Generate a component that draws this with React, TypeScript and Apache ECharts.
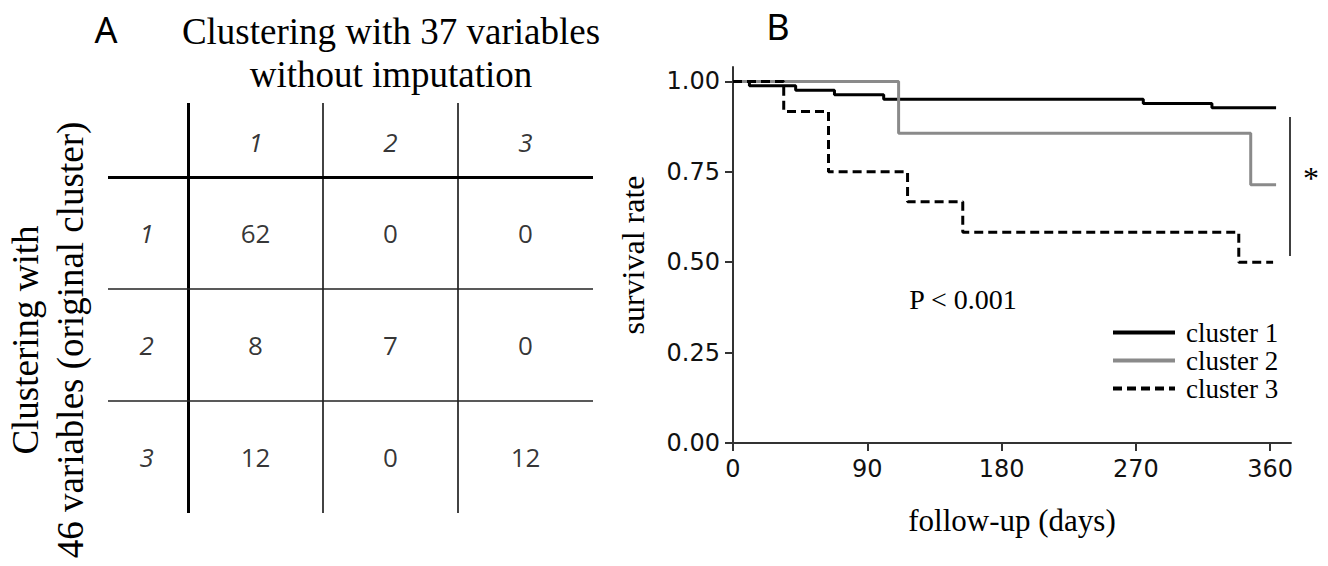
import React, { useEffect, useRef } from "react";
import * as echarts from "echarts";

// ---- Panel A: contingency table ----
const colCategories = ["1", "2", "3"];
const rowCategories = ["1", "2", "3"];
const tableCounts = [
  [62, 0, 0],
  [8, 7, 0],
  [12, 0, 12],
];

// ---- Panel B: Kaplan-Meier curves ----
const xTicks = [0, 90, 180, 270, 360];
const yTicks = [0, 0.25, 0.5, 0.75, 1.0];
const seriesNames = ["cluster 1", "cluster 2", "cluster 3"];

const c1Days = [0, 11, 42, 68, 101, 275, 321, 364];
const c1Surv = [1, 0.988, 0.976, 0.963, 0.951, 0.939, 0.927, 0.927];
const c2Days = [0, 111, 347, 364];
const c2Surv = [1, 0.857, 0.714, 0.714];
const c3Days = [0, 34, 64, 117, 154, 339, 362];
const c3Surv = [1, 0.917, 0.75, 0.667, 0.583, 0.5, 0.5];

const SERIF = "'Liberation Serif', 'Times New Roman', serif";
const SANS = "'DejaVu Sans', Verdana, sans-serif";
const TABLE_FONT = "'Open Sans', Lato, sans-serif";
const LETTER_FONT = "'Noto Sans', 'Open Sans', sans-serif";

function pairs(xs: number[], ys: number[]) {
  return xs.map((x, i) => [x, ys[i]]);
}

function centeredText(
  text: string,
  x: number,
  y: number,
  fontFamily: string,
  fontSize: number,
  extra: any = {}
) {
  return {
    type: "text",
    x,
    y,
    ...extra,
    style: {
      text,
      fontFamily,
      fontSize,
      fill: "#000",
      textAlign: "center",
      align: "center",
      textVerticalAlign: "middle",
      verticalAlign: "middle",
    },
  };
}

export default function App() {
  const ref = useRef<HTMLDivElement>(null);

  useEffect(() => {
    if (!ref.current) return;
    const chart = echarts.init(ref.current, undefined, { renderer: "svg" });

    const cellData: any[] = [];
    tableCounts.forEach((row, r) =>
      row.forEach((v, c) => cellData.push([c + 0.5, r + 0.5, v]))
    );
    const headerData = colCategories.map((lab, c) => [c + 0.5, -0.315, lab]);
    const rowLabelData = rowCategories.map((lab, r) => [-0.306, r + 0.5, lab]);

    const thick = { color: "#000", width: 3, type: "solid" };
    const thin = { color: "#222", width: 1.7, type: "solid" };

    const labelOnly = (fontStyle: string) => ({
      type: "scatter",
      xAxisIndex: 0,
      yAxisIndex: 0,
      symbolSize: 1,
      itemStyle: { color: "transparent" },
      silent: true,
      label: {
        show: true,
        position: "inside",
        formatter: (p: any) => String(p.value[2]),
        fontFamily: TABLE_FONT,
        fontSize: 26,
        fontStyle,
        color: "#000",
      },
    });

    const option: any = {
      animation: false,
      backgroundColor: "#fff",
      grid: [
        { left: 108, top: 103, width: 485, height: 410 },
        { left: 733, top: 67, width: 558, height: 376 },
      ],
      xAxis: [
        { gridIndex: 0, type: "value", min: -0.593, max: 3, show: false },
        {
          gridIndex: 1,
          type: "value",
          min: 0,
          max: 374,
          splitLine: { show: false },
          axisLine: { onZero: false, lineStyle: { color: "#333", width: 2 } },
          axisTick: {
            length: 8,
            customValues: xTicks,
            lineStyle: { color: "#333", width: 2 },
          },
          axisLabel: {
            customValues: xTicks,
            fontFamily: SANS,
            fontSize: 24,
            color: "#111",
            margin: 14,
          },
          name: "follow-up (days)",
          nameLocation: "middle",
          nameGap: 62,
          nameTextStyle: { fontFamily: SERIF, fontSize: 31, color: "#000" },
        },
      ],
      yAxis: [
        {
          gridIndex: 0,
          type: "value",
          min: -0.661,
          max: 3,
          inverse: true,
          show: false,
        },
        {
          gridIndex: 1,
          type: "value",
          min: 0,
          max: 1.04,
          splitLine: { show: false },
          axisLine: { show: true, lineStyle: { color: "#333", width: 2 } },
          axisTick: {
            show: true,
            length: 8,
            customValues: yTicks,
            lineStyle: { color: "#333", width: 2 },
          },
          axisLabel: {
            customValues: yTicks,
            formatter: (v: number) => v.toFixed(2),
            fontFamily: SANS,
            fontSize: 24,
            color: "#111",
            margin: 13,
          },
          name: "survival rate",
          nameLocation: "middle",
          nameGap: 84,
          nameTextStyle: { fontFamily: SERIF, fontSize: 32, color: "#000" },
        },
      ],
      legend: {
        data: seriesNames,
        orient: "vertical",
        left: 1106,
        top: 314,
        itemWidth: 62,
        itemHeight: 14,
        itemGap: 1,
        itemStyle: { opacity: 0 },
        lineStyle: { width: 4 },
        textStyle: {
          fontFamily: SERIF,
          fontSize: 27,
          lineHeight: 26,
          color: "#000",
          padding: [0, 0, 0, 6],
        },
      },
      series: [
        {
          ...labelOnly("normal"),
          name: "cells",
          data: cellData,
          markLine: {
            silent: true,
            symbol: ["none", "none"],
            label: { show: false },
            data: [
              { xAxis: 0, lineStyle: thick },
              { xAxis: 1, lineStyle: thin },
              { xAxis: 2, lineStyle: thin },
              { yAxis: 0, lineStyle: thick },
              { yAxis: 1, lineStyle: thin },
              { yAxis: 2, lineStyle: thin },
            ],
          },
        },
        { ...labelOnly("italic"), name: "headers", data: headerData },
        { ...labelOnly("italic"), name: "rowLabels", data: rowLabelData },
        {
          name: seriesNames[0],
          type: "line",
          xAxisIndex: 1,
          yAxisIndex: 1,
          step: "end",
          symbol: "none",
          data: pairs(c1Days, c1Surv),
          lineStyle: { color: "#000", width: 3 },
          itemStyle: { color: "#000" },
        },
        {
          name: seriesNames[1],
          type: "line",
          xAxisIndex: 1,
          yAxisIndex: 1,
          step: "end",
          symbol: "none",
          data: pairs(c2Days, c2Surv),
          lineStyle: { color: "#8a8a8a", width: 3 },
          itemStyle: { color: "#8a8a8a" },
        },
        {
          name: seriesNames[2],
          type: "line",
          xAxisIndex: 1,
          yAxisIndex: 1,
          step: "end",
          symbol: "none",
          data: pairs(c3Days, c3Surv),
          lineStyle: { color: "#000", width: 3, type: [9, 5] },
          itemStyle: { color: "#000" },
          markLine: {
            silent: true,
            symbol: ["none", "none"],
            label: { show: false },
            lineStyle: { color: "#000", width: 1.5, type: "solid" },
            data: [[{ coord: [373, 0.902] }, { coord: [373, 0.517] }]],
          },
        },
      ],
      graphic: [
        centeredText("A", 106, 29, LETTER_FONT, 36),
        centeredText("B", 778, 26, LETTER_FONT, 36),
        centeredText("Clustering with 37 variables", 391, 31, SERIF, 37),
        centeredText("without imputation", 391, 74, SERIF, 37),
        centeredText("Clustering with", 25, 340, SERIF, 37, {
          rotation: Math.PI / 2,
        }),
        centeredText("46 variables (original cluster)", 70, 340, SERIF, 37, {
          rotation: Math.PI / 2,
        }),
        centeredText("P < 0.001", 963, 299, SERIF, 28),
        centeredText("*", 1311, 178, SERIF, 32),
      ],
    };

    chart.setOption(option);
    return () => chart.dispose();
  }, []);

  return (
    <div
      ref={ref}
      style={{ position: "fixed", left: 0, top: 0, width: 1328, height: 566 }}
    />
  );
}
